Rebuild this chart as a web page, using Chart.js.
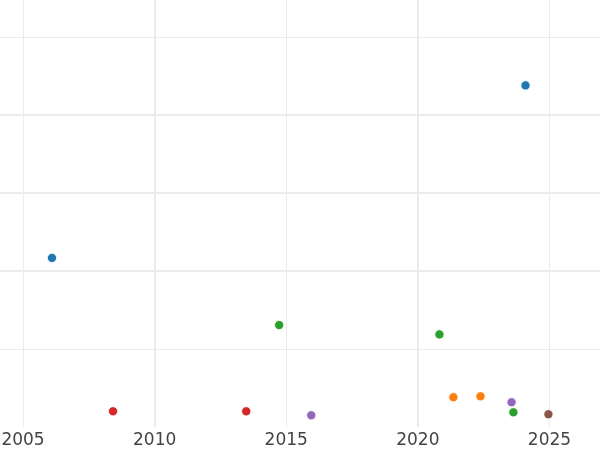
<!DOCTYPE html>
<html>
<head>
<meta charset="utf-8">
<script src="https://cdn.jsdelivr.net/npm/chart.js@4/dist/chart.umd.min.js"></script>
<style>
html,body{margin:0;padding:0;background:#fff;}
#wrap{width:600px;height:450px;}
</style>
</head>
<body>
<div id="wrap"><canvas id="c" width="600" height="450"></canvas></div>
<script>
const xTicks = [2005, 2010, 2015, 2020, 2025];
const yGrid = [1, 2, 3, 4, 5];

const blueX = [2006.10, 2024.09];
const blueY = [2.17, 4.38];
const orangeX = [2021.35, 2022.38];
const orangeY = [0.385, 0.397];
const greenX = [2014.73, 2020.82, 2023.63];
const greenY = [1.31, 1.19, 0.192];
const redX = [2008.42, 2013.48];
const redY = [0.205, 0.205];
const purpleX = [2015.95, 2023.56];
const purpleY = [0.154, 0.321];
const brownX = [2024.96];
const brownY = [0.167];

function pts(xs, ys){ return xs.map((x,i)=>({x:x, y:ys[i]})); }
function ds(xs, ys, color){
  return {data: pts(xs, ys), backgroundColor: color, borderColor: '#ffffff', borderWidth: 0.8, pointRadius: 4.6, pointHoverRadius: 4.6, clip: false};
}

new Chart(document.getElementById('c'), {
  type: 'scatter',
  data: {
    datasets: [
      ds(blueX, blueY, '#1f77b4'),
      ds(orangeX, orangeY, '#ff7f0e'),
      ds(greenX, greenY, '#2ca02c'),
      ds(redX, redY, '#d62728'),
      ds(purpleX, purpleY, '#9467bd'),
      ds(brownX, brownY, '#8c564b')
    ]
  },
  options: {
    responsive: false,
    animation: false,
    layout: {padding: {left: 0, right: 0, top: 0, bottom: -4}, autoPadding: false},
    plugins: {legend: {display: false}, tooltip: {enabled: false}},
    scales: {
      x: {
        type: 'linear',
        min: 2004.125,
        max: 2026.92,
        afterBuildTicks: (s) => { s.ticks = xTicks.map(v => ({value: v})); },
        afterFit: (s) => { s.paddingLeft = 0; s.paddingRight = 0; },
        ticks: {
          callback: (v) => String(v),
          color: '#444444',
          font: {family: 'DejaVu Sans', size: 17, lineHeight: 1.1},
          padding: 4,
          maxRotation: 0,
          autoSkip: false
        },
        grid: {
          color: '#ebebeb',
          lineWidth: (ctx) => (ctx.tick && (ctx.tick.value === 2010 || ctx.tick.value === 2020)) ? 2 : 1,
          drawTicks: false
        },
        border: {display: false}
      },
      y: {
        type: 'linear',
        min: 0,
        max: 5.474,
        afterBuildTicks: (s) => { s.ticks = yGrid.map(v => ({value: v})); },
        afterFit: (s) => { s.width = 0; },
        ticks: {display: false, padding: 0},
        grid: {
          color: '#ebebeb',
          lineWidth: (ctx) => (ctx.tick && (ctx.tick.value === 1 || ctx.tick.value === 5)) ? 1 : 2,
          drawTicks: false
        },
        border: {display: false}
      }
    }
  }
});
</script>
</body>
</html>
